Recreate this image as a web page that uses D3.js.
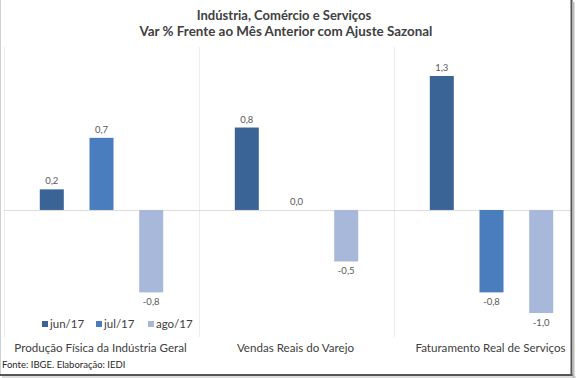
<!DOCTYPE html>
<html><head><meta charset="utf-8">
<script src="https://cdn.jsdelivr.net/npm/d3@7"></script>
<style>body{margin:0;background:#fff}svg{display:block}</style>
</head><body>
<script>
const categories = ["Produção Física da Indústria Geral", "Vendas Reais do Varejo", "Faturamento Real de Serviços"];
const seriesNames = ["jun/17", "jul/17", "ago/17"];
const jun17 = [0.2, 0.8, 1.3];
const jul17 = [0.7, 0.0, -0.8];
const ago17 = [-0.8, -0.5, -1.0];
const colors = ["#3a6396", "#4a7dbd", "#a7b8da"];
const titleLines = ["Indústria, Comércio e Serviços", "Var % Frente ao Mês Anterior com Ajuste Sazonal"];
const source = "Fonte: IBGE. Elaboração: IEDI";

const W = 576, H = 378;
const font = "Lato, 'Open Sans', sans-serif";
const svg = d3.select("body").append("svg").attr("width", W).attr("height", H);
svg.append("rect").attr("width", W).attr("height", H).attr("fill", "#fff");

const seriesVals = [jun17, jul17, ago17];
const data = categories.map((c, i) => ({cat: c, vals: seriesNames.map((s, j) => ({s, v: seriesVals[j][i]}))}));

const x0 = d3.scaleBand().domain(categories).range([4, 589]).padding(0);
const x1 = d3.scaleBand().domain(seriesNames).range([0, x0.bandwidth()]).paddingInner(0.517).paddingOuter(0.72);
const y = d3.scaleLinear().domain([-1.0, 1.3]).range([313, 76]);
const color = d3.scaleOrdinal().domain(seriesNames).range(colors);

// separators
svg.append("g").selectAll("line").data(categories).join("line")
  .attr("x1", d => x0(d) + 0.5).attr("x2", d => x0(d) + 0.5)
  .attr("y1", 47).attr("y2", 337).attr("stroke", "#ececec").attr("stroke-width", 1);

// zero line
svg.append("line").attr("x1", 4).attr("x2", 572).attr("y1", Math.round(y(0)) + 0.5).attr("y2", Math.round(y(0)) + 0.5)
  .attr("stroke", "#dcdcdc").attr("stroke-width", 1);

const fmt = v => v.toFixed(1).replace(".", ",");
const g = svg.append("g").selectAll("g").data(data).join("g").attr("transform", d => `translate(${x0(d.cat)},0)`);
g.selectAll("rect").data(d => d.vals).join("rect")
  .attr("x", d => x1(d.s)).attr("width", x1.bandwidth())
  .attr("y", d => y(Math.max(0, d.v))).attr("height", d => Math.abs(y(d.v) - y(0)))
  .attr("fill", d => color(d.s));
g.selectAll("text").data(d => d.vals).join("text")
  .attr("x", d => x1(d.s) + x1.bandwidth() / 2)
  .attr("y", d => d.v >= 0 ? y(d.v) - 5 : y(d.v) + 13)
  .attr("text-anchor", "middle").attr("font-family", font).attr("font-size", 9.5).attr("fill", "#595959")
  .text(d => fmt(d.v));

// category labels
svg.append("g").selectAll("text").data(categories).join("text")
  .attr("x", d => x0(d) + x0.bandwidth() / 2 - 1).attr("y", 352)
  .attr("text-anchor", "middle").attr("font-family", font).attr("font-size", 11.6).attr("fill", "#404040")
  .text(d => d);

// legend
const legX = [42, 96, 148];
const leg = svg.append("g").selectAll("g").data(seriesNames).join("g")
  .attr("transform", (d, i) => `translate(${legX[i]},0)`);
leg.append("rect").attr("x", 0).attr("y", 321).attr("width", 6).attr("height", 6).attr("fill", d => color(d));
leg.append("text").attr("x", 8).attr("y", 328).attr("font-family", font).attr("font-size", 11.5).attr("fill", "#404040").text(d => d);

// title
svg.append("g").selectAll("text").data(titleLines).join("text")
  .attr("x", (d, i) => i === 0 ? 284 : 286).attr("y", (d, i) => 19.5 + i * 16.5)
  .attr("text-anchor", "middle").attr("font-family", font).attr("font-weight", "bold")
  .attr("font-size", (d, i) => i === 0 ? 13 : 13.4).attr("fill", "#404040")
  .text(d => d);

// source
svg.append("text").attr("x", 2).attr("y", 368).attr("font-family", font).attr("font-size", 9.5).attr("fill", "#262626").text(source);

// frame
svg.append("line").attr("x1", 0.5).attr("x2", 0.5).attr("y1", 0).attr("y2", 375).attr("stroke", "#d0d0d0");
svg.append("line").attr("x1", 571.5).attr("x2", 571.5).attr("y1", 0).attr("y2", 376).attr("stroke", "#555").attr("stroke-width", 2);
svg.append("line").attr("x1", 0).attr("x2", 573).attr("y1", 375).attr("y2", 375).attr("stroke", "#555").attr("stroke-width", 2);
svg.append("line").attr("x1", 573.5).attr("x2", 573.5).attr("y1", 2).attr("y2", 378).attr("stroke", "#bbb").attr("stroke-width", 2);
svg.append("line").attr("x1", 2).attr("x2", 576).attr("y1", 377).attr("y2", 377).attr("stroke", "#bbb").attr("stroke-width", 1);
</script>
</body></html>
